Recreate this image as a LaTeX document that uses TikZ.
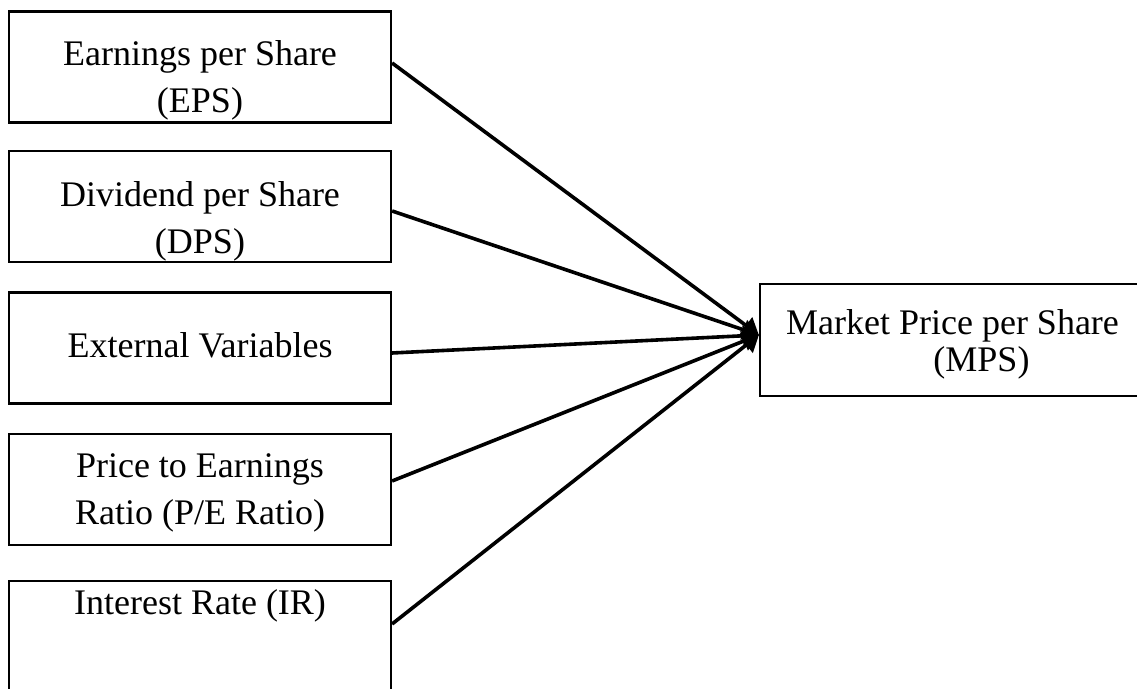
\documentclass[tikz,border=0pt]{standalone}
\usepackage{fontspec}
\setmainfont{Liberation Serif}
\usetikzlibrary{arrows.meta}
\begin{document}
\begin{tikzpicture}[x=0.5pt,y=-0.5pt]
    \tikzstyle{box}=[draw, line width=1.1pt, minimum width=191pt, minimum height=55.5pt,
        inner sep=0pt, align=center, font=\fontsize{18}{23.5}\selectfont]
    \tikzstyle{link}=[line width=1.8pt, -{Triangle[length=8pt, width=10pt]}]

    % Page size, cut at the bottom and right as in the source
    \useasboundingbox (0,0) rectangle (1137,689);
    \clip (0,0) rectangle (1137,689);

    % Draw factor boxes from top to bottom
    \node[box, text height=46.5pt, text depth=1pt] (eps) at (200,67) {Earnings per Share\\(EPS)};
    \node[box, text height=48pt, text depth=1pt] (dps) at (200,206.5) {Dividend per Share\\(DPS)};
    \node[box, text height=14pt, text depth=4pt] (ext) at (200,348) {External Variables};
    \node[box, text height=40pt, text depth=4.5pt] (pe) at (200,489.5) {Price to Earnings\\Ratio (P/E Ratio)};
    \node[box, text height=10pt, text depth=32pt] (ir) at (200,636.5) {Interest Rate (IR)};

    % Draw outcome box
    \node[box, minimum width=192.5pt, minimum height=56pt, text height=33pt, text depth=1pt,
        font=\fontsize{18}{18.5}\selectfont] (mps) at (952.5,340)
        {Market Price per Share\\\hspace*{29pt}(MPS)};
    \coordinate (tip) at ([yshift=2.5pt]mps.west);

    % Add arrows into the outcome
    \foreach \src/\dy in {eps/2, dps/-2.25, ext/-2.5, pe/4.25, ir/6.25} {
        \draw[link] ([yshift=\dy pt]\src.east) -- (tip);
    }
\end{tikzpicture}
\end{document}
